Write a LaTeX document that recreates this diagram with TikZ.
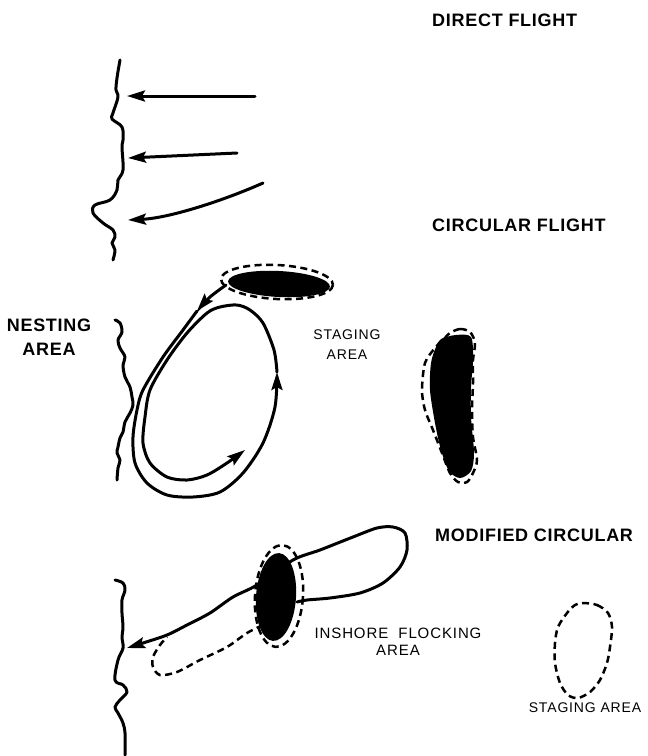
\documentclass[tikz,border=0pt]{standalone}
\usepackage{fontspec}
\setmainfont{Liberation Sans}
\newfontfamily\titlefont[LetterSpace=4]{Liberation Sans}
\newfontfamily\areafont[LetterSpace=6]{Liberation Sans}
\usetikzlibrary{arrows.meta}

\begin{document}
\begin{tikzpicture}[x=1pt, y=-1pt,
    coast/.style={line width=3pt, line cap=round, line join=round},
    flight/.style={line width=3pt, line cap=round},
    flighthead/.style={-{Stealth[length=18pt,width=11pt,inset=3pt]}},
    zone/.style={line width=2.5pt, dash pattern=on 7pt off 4.5pt},
    titletext/.style={font=\titlefont\bfseries\fontsize{18}{23.5}\selectfont, inner sep=0pt},
    areatext/.style={font=\areafont\fontsize{14}{20}\selectfont, align=center, inner sep=0pt}]
      \useasboundingbox (0,0) rectangle (648,756);

      % Tiêu đề
      \node[titletext, anchor=west] (direct) at (432,20) {DIRECT FLIGHT};
      \node[titletext, anchor=west] (circular) at (432,225) {CIRCULAR FLIGHT};
      \node[titletext, anchor=west] (modified) at (435,535) {MODIFIED CIRCULAR};
      \node[titletext, align=center] (nesting) at (49,337) {NESTING\\AREA};

      % Bờ biển
      \draw[coast] plot[smooth, tension=0.6] coordinates {(120,60) (117,78) (116,90) (118,97) (113,113) (112,119) (122,127) (123,140) (122,147) (123,170) (118,180) (117,190) (110,200) (95,205) (93,213) (103,223) (113,230) (115,237) (112,243) (115,250) (113,260)};
      \draw[coast] plot[smooth, tension=0.6] coordinates {(115,320) (120,323) (122,332) (118,340) (120,348) (125,357) (123,365) (125,377) (130,387) (132,397) (133,405) (130,413) (125,422) (123,432) (120,438) (118,447) (117,453) (120,460) (118,468) (117,480)};
      \draw[coast] plot[smooth, tension=0.6] coordinates {(115,580) (123,583) (125,590) (122,600) (122,613) (123,627) (122,637) (123,648) (118,660) (115,680) (123,685) (127,692) (120,700) (115,707) (118,713) (123,723) (125,733) (125,747) (125,755)};

      % Bay thẳng
      \draw[flight, flighthead] (255,96) -- (127,96);
      \draw[flight, flighthead] (237,153) -- (128,158);
      \draw[flight, flighthead] (263,183) .. controls (225,200) and (170,218) .. (128,220);

      % Bay vòng
      \draw[zone, rotate around={-3:(277,282)}] (277,282) ellipse [x radius=56, y radius=17];
      \fill[rotate around={-3:(279,284)}] (279,284) ellipse [x radius=51, y radius=13];
      \draw[flight, flighthead] plot[smooth] coordinates {(226,285) (210,297) (197,311)};
      \draw[flight, flighthead] plot[smooth] coordinates {(197,311) (183,330) (163,357) (143,390) (137,410) (133,437) (135,463) (147,483) (167,495) (193,497) (220,492) (243,473) (263,443) (275,407) (277,372)};
      \draw[flight, flighthead] plot[smooth] coordinates {(277,372) (274,350) (263,323) (250,310) (237,305) (220,307) (207,313) (187,333) (167,360) (150,390) (145,417) (143,443) (150,463) (167,477) (187,480) (207,475) (227,463) (245,450)};
      \node[areatext] (staging) at (347,345) {STAGING\\AREA};

      \draw[zone] plot[smooth cycle] coordinates {(450,333) (460,329) (470,332) (475,343) (473,360) (473,383) (472,410) (473,437) (477,460) (473,473) (467,482) (458,482) (450,473) (442,453) (433,430) (425,410) (422,390) (425,363) (435,348) (443,340)};
      \fill plot[smooth cycle] coordinates {(441,339) (456,335) (471,337) (473,360) (471,387) (471,417) (474,453) (471,471) (460,478) (449,471) (441,450) (435,423) (430,390) (431,363) (436,347)};

      % Vòng cải biên
      \draw[flight, flighthead] plot[smooth] coordinates {(297,602) (307,600) (330,598) (360,593) (383,583) (400,567) (407,550) (405,533) (393,527) (377,528) (353,537) (320,550) (293,560) (257,585) (233,597) (210,613) (187,625) (167,635) (143,643) (127,648)};
      \draw[zone] plot[smooth] coordinates {(263,625) (247,633) (227,647) (200,660) (177,672) (160,675) (153,667) (153,657) (160,645) (167,637)};
      \draw[zone, rotate around={-4:(279,596)}] (279,596) ellipse [x radius=24, y radius=51];
      \fill[rotate around={-4:(276,597)}] (276,597) ellipse [x radius=20, y radius=44];
      \node[areatext, font=\areafont\fontsize{15}{16.5}\selectfont] (inshore) at (398,642) {INSHORE\ \ FLOCKING\\AREA};

      \draw[zone] plot[smooth cycle] coordinates {(583,603) (597,605) (608,613) (612,627) (610,647) (607,663) (600,680) (590,692) (578,698) (568,695) (560,683) (555,663) (555,643) (558,627) (567,613) (575,605)};
      \node[areatext] (stagingb) at (585,708) {STAGING AREA};
\end{tikzpicture}
\end{document}
